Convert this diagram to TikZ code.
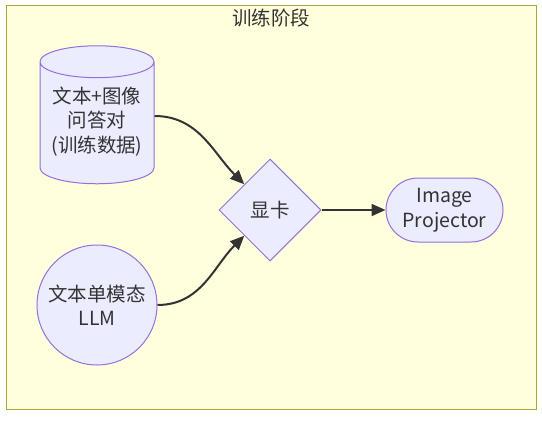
\documentclass[tikz,border=0pt]{standalone}
\usepackage{fontspec}
\setmainfont{Noto Sans CJK SC}
\usetikzlibrary{shapes.geometric, arrows.meta, positioning}
\definecolor{nodefill}{HTML}{ECECFF}
\definecolor{nodeline}{HTML}{9370DB}
\definecolor{clusterfill}{HTML}{FFFFDE}
\definecolor{clusterline}{HTML}{AAAA33}
\definecolor{textgray}{HTML}{333333}
\tikzset{
	box/.style={draw=nodeline, fill=nodefill, line width=1pt, text=textgray, align=center, inner sep=0pt, font=\fontsize{19.5}{24.5}\selectfont},
	dbase/.style={box, cylinder, shape border rotate=90, aspect=0.35, minimum width=114pt, minimum height=138pt},
	model/.style={box, circle, minimum size=120pt},
	card/.style={box, diamond, minimum size=102pt},
	pill/.style={box, rectangle, rounded corners=32pt, minimum width=117pt, minimum height=64pt},
	line/.style={draw=textgray, line width=2pt, -{Triangle[length=14pt, width=12pt]}}
}
\begin{document}
\begin{tikzpicture}[x=1pt, y=-1pt]
	\useasboundingbox (0,0) rectangle (542,423);
	% cluster box
	\draw[fill=clusterfill, draw=clusterline, line width=1pt] (6,5) rectangle (536,409);
	\node[text=textgray, font=\fontsize{19.5}{22}\selectfont] (stage) at (271,18) {训练阶段};
	
	% data, model and GPU
	\node[dbase] (data) at (97,123) {\raisebox{6pt}{\begin{tabular}{@{}c@{}}文本+图像\\问答对\\(训练数据)\end{tabular}}};
	\node[model] (llm) at (97,305) {文本单模态\\LLM};
	\node[card] (gpu) at (270,210) {显卡};
	\node[pill, right=64pt of gpu] (proj) {Image\\Projector};
	
	% connectors
	\path[line] ([yshift=7pt]data.east) to[out=0, in=135] (gpu.north west);
	\path[line] (llm.east) to[out=0, in=-135] (gpu.south west);
	\path[line] (gpu) -- (proj);
\end{tikzpicture}
\end{document}
